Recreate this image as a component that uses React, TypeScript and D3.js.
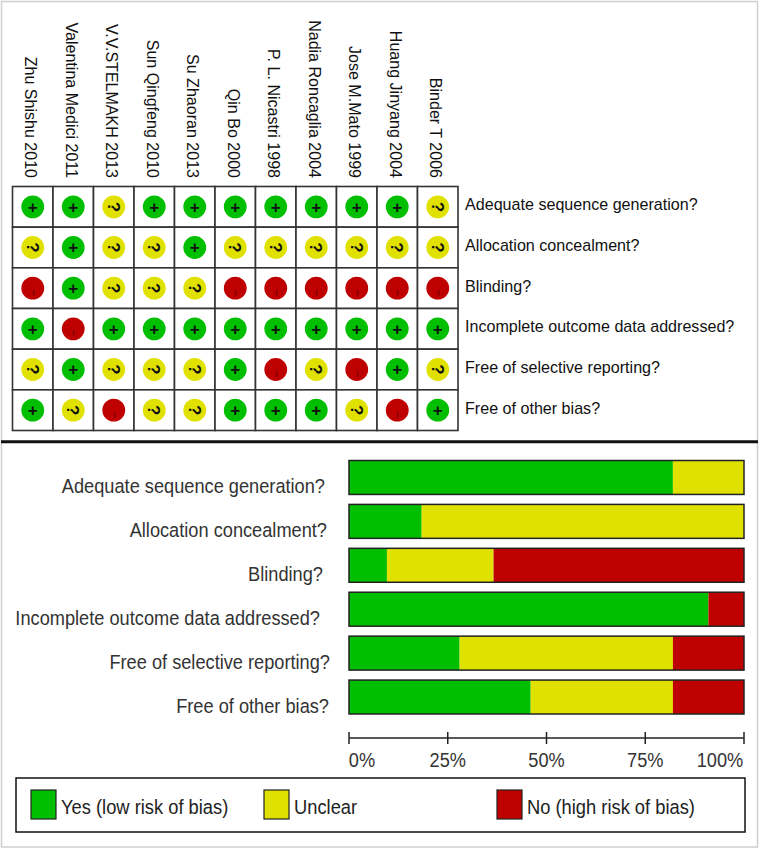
import React from "react";
import * as d3 from "d3";

const studies = ["Zhu Shishu 2010","Valentina Medici 2011","V.V.STELMAKH 2013","Sun Qingfeng 2010","Su Zhaoran 2013","Qin Bo 2000","P. L. Nicastri 1998","Nadia Roncaglia 2004","Jose M.Mato 1999","Huang Jinyang 2004","Binder T 2006"];
const domains = ["Adequate sequence generation?","Allocation concealment?","Blinding?","Incomplete outcome data addressed?","Free of selective reporting?","Free of other bias?"];
const judgements = [
  "++?+++++++?",
  "?+??+??????",
  "-+???------",
  "+-+++++++++",
  "?+???+-?-+?",
  "+?-??+++?-+",
];
const yesPct = [82,18.4,9.6,91,28,46];
const unclearPct = [18,81.6,27,0,54,36];
const noPct = [0,0,63.4,9,18,18];
const ticks = [0,25,50,75,100];
const legendItems = ["Yes (low risk of bias)","Unclear","No (high risk of bias)"];

const GREEN = "#00bf00", YELLOW = "#e1e100", RED = "#bf0000", INK = "#222", FONT = "Liberation Sans, Arial, sans-serif";
const colorOf: Record<string,string> = {"+":GREEN,"?":YELLOW,"-":RED};
const labelRight = [325,327,323,320,330,329];
const SX = 0.934;

export default function App() {
  const col = d3.scaleBand<number>().domain(d3.range(studies.length)).range([12.5,458]);
  const row = d3.scaleBand<number>().domain(d3.range(domains.length)).range([186.5,430.5]);
  const x = d3.scaleLinear().domain([0,100]).range([349,744]);
  const barY = d3.scaleBand<number>().domain(d3.range(domains.length)).range([460.5,714]).paddingInner(0.227).paddingOuter(0);
  return (
    <svg width={760} height={849} style={{position:"absolute",left:0,top:0,background:"#fff",fontFamily:FONT}}>
      <rect x={1.5} y={1.5} width={756} height={845.5} fill="none" stroke="#cfcfcf" strokeWidth={1.5}/>
      {studies.map((s,i)=>{
        const cx = col(i)!+col.bandwidth()/2;
        return <text key={s} transform={`translate(${cx-7.5},178) rotate(90) scale(0.945,1)`} textAnchor="end" fontSize={17} fill="#111">{s}</text>;
      })}
      {judgements.map((r,j)=>r.split("").map((c,i)=>{
        const cx=col(i)!+col.bandwidth()/2, cy=row(j)!+row.bandwidth()/2;
        return <g key={`${i}-${j}`}>
          <rect x={col(i)} y={row(j)} width={col.bandwidth()} height={row.bandwidth()} fill="#fff" stroke="#333" strokeWidth={1.6}/>
          <circle cx={cx} cy={cy} r={11.4} fill={colorOf[c]}/>
          {c==="+" && <text x={cx} y={cy+5.7} textAnchor="middle" fontSize={17} fontWeight="bold" fill="#111">+</text>}
          {c==="?" && <text transform={`translate(${cx-6},${cy}) rotate(90)`} textAnchor="middle" fontSize={17} fontWeight="bold" fill="#111">?</text>}
          {c==="-" && <text transform={`translate(${cx-3.9},${cy+4.5}) rotate(90) scale(1,0.6)`} textAnchor="middle" fontSize={24} fill="#700">-</text>}
        </g>;
      }))}
      {domains.map((d,j)=><text key={d} x={465} y={row(j)!+row.bandwidth()/2+3.5} fontSize={16.1} fill="#111">{d}</text>)}
      <line x1={1} x2={758} y1={441.7} y2={441.7} stroke="#111" strokeWidth={3}/>
      {domains.map((d,j)=><text key={d} transform={`translate(${labelRight[j]},${barY(j)!+barY.bandwidth()-1}) scale(${SX},1)`} textAnchor="end" fontSize={19.5} fill="#333">{d}</text>)}
      {domains.map((d,j)=>{
        const y=barY(j)!, h=barY.bandwidth();
        const a=yesPct[j], b=a+unclearPct[j];
        return <g key={d}>
          <rect x={x(0)} y={y} width={x(a)-x(0)} height={h} fill={GREEN}/>
          <rect x={x(a)} y={y} width={x(b)-x(a)} height={h} fill={YELLOW}/>
          <rect x={x(b)} y={y} width={x(b+noPct[j])-x(b)} height={h} fill={RED}/>
          <rect x={x(0)} y={y} width={x(100)-x(0)} height={h} fill="none" stroke="#222" strokeWidth={1.5}/>
        </g>;
      })}
      <line x1={x(0)} x2={x(100)} y1={738} y2={738} stroke={INK} strokeWidth={1.5}/>
      {ticks.map((t,i)=><g key={t}>
        <line x1={x(t)} x2={x(t)} y1={732} y2={744} stroke={INK} strokeWidth={1.5}/>
        <text transform={`translate(${x(t)+(i===0?13:i===4?-24:0)},767) scale(${SX},1)`} textAnchor="middle" fontSize={19.5} fill="#333">{t}%</text>
      </g>)}
      <rect x={16} y={778} width={729} height={54} fill="#fff" stroke="#111" strokeWidth={1.5}/>
      {legendItems.map((l,i)=>{
        const lx=[31,264,497][i], c=[GREEN,YELLOW,RED][i];
        return <g key={l}>
          <rect x={lx} y={790} width={25} height={29} fill={c} stroke="#222" strokeWidth={1.2}/>
          <text transform={`translate(${lx+30},814) scale(0.94,1)`} fontSize={19.5} fill="#222">{l}</text>
        </g>;
      })}
    </svg>
  );
}
